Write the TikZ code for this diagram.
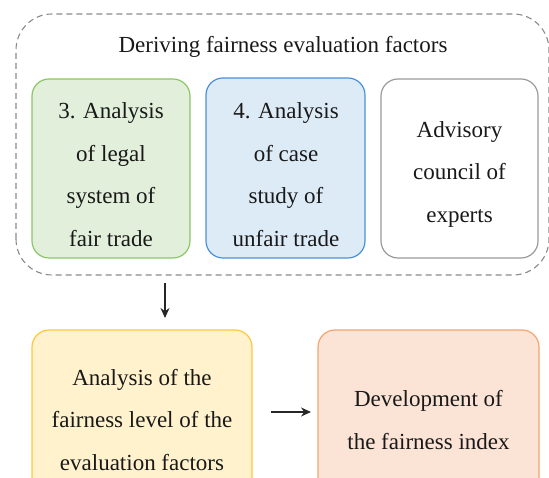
\documentclass[tikz,border=0pt]{standalone}
\usepackage{fontspec}
\setmainfont{Liberation Serif}
\usetikzlibrary{arrows.meta}
\definecolor{gfill}{HTML}{E2EFDA}
\definecolor{gdraw}{HTML}{8CC665}
\definecolor{bfill}{HTML}{DDEBF7}
\definecolor{bdraw}{HTML}{4A90D9}
\definecolor{wdraw}{HTML}{9A9A9A}
\definecolor{yfill}{HTML}{FFF2CC}
\definecolor{ydraw}{HTML}{FFC83D}
\definecolor{ofill}{HTML}{FBE4D6}
\definecolor{odraw}{HTML}{F4A470}
\definecolor{dashc}{HTML}{8A8A8A}
\begin{document}
\begin{tikzpicture}[x=1pt,y=1pt,
  txt/.style={font=\fontsize{23}{42.5}\selectfont, align=center, text=black!90},
  box/.style={rounded corners=17pt, line width=1.2pt},
  arr/.style={-{Stealth[length=10pt,width=9pt]}, line width=1.1pt, black!85}]
\useasboundingbox (0,0) rectangle (549,478);
% container
\draw[dashc, dashed, dash pattern=on 6pt off 4pt, line width=1.1pt, rounded corners=36pt] (16,203) rectangle (549,464);
\node[txt] (title) at (283,431) {Deriving fairness evaluation factors};
% top boxes
\draw[box, draw=gdraw, fill=gfill] (32,220) rectangle (190,399);
\draw[box, draw=bdraw, fill=bfill] (206,220) rectangle (365,400);
\draw[box, draw=wdraw, fill=white] (381,220) rectangle (538,399);
\node[txt] (a3) at (111,303.5) {3. Analysis\\of legal\\system of\\fair trade};
\node[txt] (a4) at (286,303.5) {4. Analysis\\of case\\study of\\unfair trade};
\node[txt] (adv) at (459.5,304) {Advisory\\council of\\experts};
% bottom boxes
\draw[box, draw=ydraw, fill=yfill] (32,-30) rectangle (252,148);
\draw[box, draw=odraw, fill=ofill] (318,-30) rectangle (539,148);
\node[txt] (ana) at (142,58) {Analysis of the\\fairness level of the\\evaluation factors};
\node[txt] (dev) at (428.5,58) {Development of\\the fairness index};
% arrows
\coordinate (d1) at (165,195);
\coordinate (d2) at (165,160);
\draw[arr] (d1) -- (d2);
\coordinate (r1) at (271,66);
\coordinate (r2) at (311,66);
\draw[arr] (r1) -- (r2);
\end{tikzpicture}
\end{document}
